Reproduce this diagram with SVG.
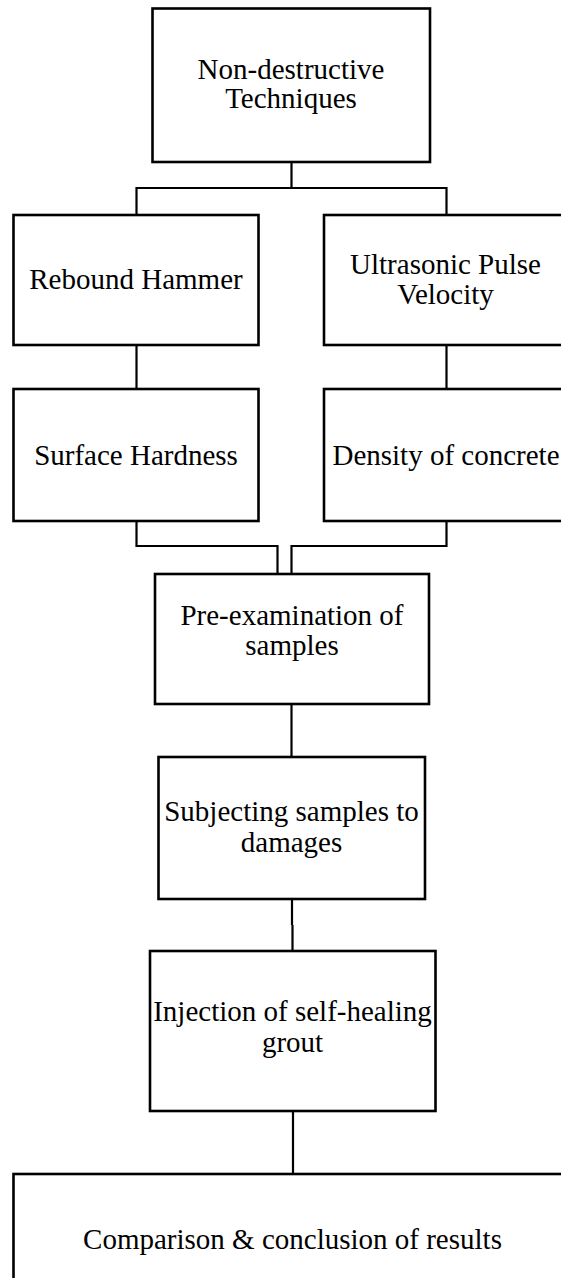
<svg xmlns="http://www.w3.org/2000/svg" width="561" height="1278" viewBox="0 0 561 1278">
<style>
.box{fill:#fff;stroke:#000;stroke-width:2.6}
.con{fill:none;stroke:#000;stroke-width:2.2}
.t{font-family:'Liberation Serif','Times New Roman','DejaVu Serif',serif;font-size:29px;fill:#000;text-anchor:middle}
</style>
<rect width="561" height="1278" fill="#fff"/>
<g id="connectors">
<path class="con" d="M291.5,162 V188 M136.5,215 V188 H446.5 V215"/>
<path class="con" d="M136.5,345 V389 M446.5,345 V389"/>
<path class="con" d="M136.5,521 V546 H277.5 V574 M446.5,521 V546 H291.5 V574"/>
<path class="con" d="M291.5,704 V757"/>
<path class="con" d="M292,899 V925 M292.5,925 V951"/>
<path class="con" d="M293,1111 V1174"/>
</g>
<g id="nodes" class="t" font-family="Liberation Serif, DejaVu Serif, serif">
<g id="n1"><rect class="box" x="152.5" y="8.5" width="277.5" height="153.5"/><text class="t" x="291" y="79">Non-destructive</text><text class="t" x="291" y="108">Techniques</text></g>
<g id="n2"><rect class="box" x="13.5" y="215" width="245" height="130"/><text class="t" x="136" y="289">Rebound Hammer</text></g>
<g id="n3"><rect class="box" x="324" y="215" width="250" height="130"/><text class="t" x="445.5" y="273.5">Ultrasonic Pulse</text><text class="t" x="445.5" y="304">Velocity</text></g>
<g id="n4"><rect class="box" x="13.5" y="389" width="245" height="132"/><text class="t" x="136" y="464.5">Surface Hardness</text></g>
<g id="n5"><rect class="box" x="324" y="389" width="250" height="132"/><text class="t" x="446" y="464.5">Density of concrete</text></g>
<g id="n6"><rect class="box" x="155" y="574" width="274" height="130"/><text class="t" x="292" y="624.5">Pre-examination of</text><text class="t" x="292" y="654.5">samples</text></g>
<g id="n7"><rect class="box" x="158.5" y="757" width="266.5" height="142"/><text class="t" x="291.5" y="821">Subjecting samples to</text><text class="t" x="291.5" y="851.5">damages</text></g>
<g id="n8"><rect class="box" x="150" y="951" width="285.5" height="160"/><text class="t" x="292.5" y="1021">Injection of self-healing</text><text class="t" x="292.5" y="1051.5">grout</text></g>
<g id="n9"><rect class="box" x="13.5" y="1174" width="560" height="120"/><text class="t" x="292.5" y="1248.5">Comparison &amp; conclusion of results</text></g>
</g>
</svg>
